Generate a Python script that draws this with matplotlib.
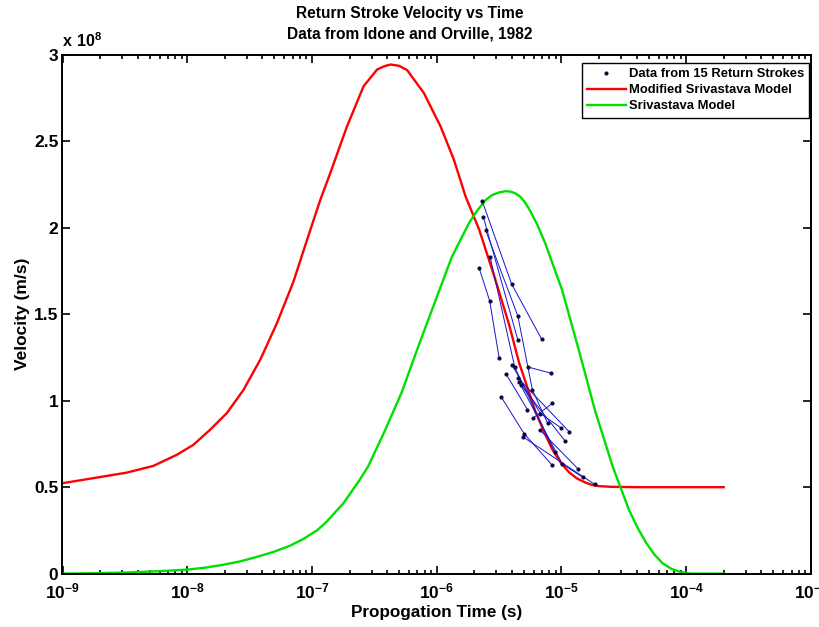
import matplotlib
matplotlib.use("Agg")
import matplotlib.pyplot as plt
from matplotlib.ticker import FixedLocator, FixedFormatter, LogLocator, NullFormatter
import numpy as np

plt.rcParams['font.family'] = ['Liberation Sans', 'DejaVu Sans']
plt.rcParams['font.weight'] = 'bold'
plt.rcParams['mathtext.fontset'] = 'custom'
plt.rcParams['mathtext.rm'] = 'Liberation Sans:bold'
plt.rcParams['mathtext.bf'] = 'Liberation Sans:bold'

# --- data (time as log10 seconds, velocity in units of 1e8 m/s) ---
# Modified Srivastava model
mod_logt = [-9.0, -8.754, -8.486, -8.272, -8.084, -7.951, -7.817, -7.683,
            -7.549, -7.415, -7.281, -7.148, -7.04, -6.933, -6.853, -6.719,
            -6.586, -6.478, -6.42, -6.371, -6.30, -6.237, -6.104, -5.97,
            -5.863, -5.769, -5.66, -5.53, -5.42, -5.34, -5.21, -5.14, -5.075,
            -5.01, -4.94, -4.875, -4.81, -4.75, -4.70, -4.60, -4.40, -3.70]
mod_v = [0.523, 0.552, 0.584, 0.623, 0.687, 0.745, 0.832, 0.928,
         1.063, 1.237, 1.449, 1.69, 1.93, 2.163, 2.318, 2.588,
         2.82, 2.916, 2.935, 2.945, 2.937, 2.912, 2.781, 2.588,
         2.395, 2.182, 1.99, 1.70, 1.44, 1.22, 0.94, 0.82, 0.72,
         0.645, 0.586, 0.55, 0.527, 0.512, 0.506, 0.502, 0.50, 0.50]

# Srivastava model
sri_logt = [-9.0, -8.75, -8.5, -8.25, -8.0, -7.86, -7.72, -7.58, -7.45,
            -7.31, -7.18, -7.07, -6.96, -6.89, -6.82, -6.75, -6.69, -6.62,
            -6.55, -6.42, -6.28, -6.15, -6.01, -5.88, -5.74, -5.675, -5.61,
            -5.555, -5.50, -5.45, -5.41, -5.37, -5.33, -5.295, -5.26, -5.195,
            -5.13, -4.995, -4.86, -4.73, -4.59, -4.46, -4.39, -4.32, -4.255,
            -4.19, -4.12, -4.05, -3.97, -3.70]
sri_v = [0.0, 0.002, 0.006, 0.013, 0.023, 0.034, 0.05, 0.07, 0.095,
         0.125, 0.16, 0.20, 0.25, 0.295, 0.35, 0.405, 0.467, 0.54,
         0.62, 0.82, 1.05, 1.31, 1.58, 1.83, 2.03, 2.10, 2.16,
         2.19, 2.205, 2.212, 2.21, 2.20, 2.18, 2.15, 2.11, 2.02,
         1.91, 1.64, 1.29, 0.94, 0.62, 0.37, 0.265, 0.176, 0.11,
         0.06, 0.028, 0.01, 0.0, 0.0]

# 15 return strokes (log10 t, v)
strokes = [
    [(-5.637, 2.158), (-5.40, 1.675), (-5.158, 1.355)],
    [(-5.627, 2.064), (-5.35, 1.352)],
    [(-5.268, 1.195), (-5.088, 1.16)],
    [(-5.608, 1.986), (-5.35, 1.49), (-5.233, 1.062), (-5.112, 0.871)],
    [(-5.659, 1.765), (-5.576, 1.578), (-5.50, 1.248)],
    [(-5.573, 1.834), (-5.375, 1.195), (-5.054, 0.701)],
    [(-5.444, 1.154), (-5.273, 0.949)],
    [(-5.169, 0.828), (-4.869, 0.607)],
    [(-5.484, 1.023), (-5.30, 0.81), (-5.075, 0.627)],
    [(-5.396, 1.205), (-5.169, 0.926), (-5.008, 0.845)],
    [(-5.348, 1.131), (-4.94, 0.822)],
    [(-5.343, 1.107), (-4.97, 0.766)],
    [(-5.327, 1.091), (-4.992, 0.633), (-4.831, 0.558)],
    [(-5.305, 0.789), (-4.735, 0.517)],
    [(-5.227, 0.90), (-5.075, 0.984)],
]

title = 'Return Stroke Velocity vs Time\nData from Idone and Orville, 1982'
xlab = 'Propogation Time (s)'
ylab = 'Velocity (m/s)'
yticks = [0, 0.5, 1, 1.5, 2, 2.5, 3]
ytick_labels = ['0', '0.5', '1', '1.5', '2', '2.5', '3']
xticks_exp = [-9, -8, -7, -6, -5, -4, -3]

fig = plt.figure(figsize=(8.2, 6.27), dpi=100)
ax = fig.add_axes([62.5 / 820, 53.4 / 627, 748.5 / 820, 518.6 / 627])

for s in strokes:
    t = [10 ** p[0] for p in s]
    v = [p[1] for p in s]
    ax.plot(t, v, color='#1515cc', lw=0.7, zorder=3)
all_t = [10 ** p[0] for s in strokes for p in s]
all_v = [p[1] for s in strokes for p in s]
ax.plot(all_t, all_v, ls='none', marker='.', ms=4, color='#0a0a40', zorder=4,
        label='Data from 15 Return Strokes')

ax.plot([10 ** x for x in mod_logt], mod_v, color='#ff0000', lw=1.7, zorder=2,
        label='Modified Srivastava Model')
ax.plot([10 ** x for x in sri_logt], sri_v, color='#00e000', lw=1.7, zorder=2,
        label='Srivastava Model')

ax.set_xscale('log')
ax.set_xlim(1e-9, 1e-3)
ax.set_ylim(0, 3)
ax.xaxis.set_major_locator(FixedLocator([10.0 ** e for e in xticks_exp]))
ax.xaxis.set_major_formatter(FixedFormatter([r'$\mathbf{10^{%d}}$' % e for e in xticks_exp]))
ax.xaxis.set_minor_locator(LogLocator(base=10, subs=np.arange(2, 10)))
ax.xaxis.set_minor_formatter(NullFormatter())
ax.yaxis.set_major_locator(FixedLocator(yticks))
ax.yaxis.set_major_formatter(FixedFormatter(ytick_labels))

ax.tick_params(which='both', direction='in', top=True, right=True, width=1.2)
ax.tick_params(which='major', length=5.8, labelsize=12.5, pad=3)
ax.tick_params(axis='x', which='major', pad=6)
ax.tick_params(which='minor', length=2.9)
for sp in ax.spines.values():
    sp.set_linewidth(1.4)

ax.set_xlabel(xlab, fontsize=12.3, fontweight='bold', labelpad=2)
ax.set_ylabel(ylab, fontsize=12.5, fontweight='bold', labelpad=3)
ax.set_title(title, fontsize=11.2, fontweight='bold', x=(410 - 62.5) / 748.5, pad=12,
             linespacing=1.45)
ax.text(0.0, 1.01, r'$\mathbf{x\ 10^{8}}$', transform=ax.transAxes,
        fontsize=11.5, ha='left', va='bottom')

leg = ax.legend(loc='upper right', bbox_to_anchor=(1 - 2 / 748.5, 1 - 8 / 518.6),
                fontsize=9.4, frameon=True, fancybox=False,
                edgecolor='black', framealpha=1, borderaxespad=0,
                handlelength=3.0, handletextpad=0.2, labelspacing=0.3,
                borderpad=0.4)
leg.get_frame().set_linewidth(1.0)
for t in leg.get_texts():
    t.set_fontweight('bold')

fig.savefig('out.png', dpi=100)
